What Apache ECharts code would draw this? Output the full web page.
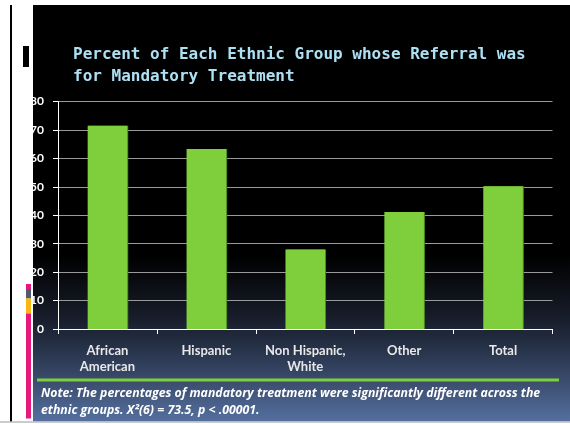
<!DOCTYPE html>
<html>
<head>
<meta charset="utf-8">
<script src="https://cdn.jsdelivr.net/npm/echarts@6/dist/echarts.min.js"></script>
<style>
  html, body { margin: 0; padding: 0; background: #ffffff; }
  #chart { width: 570px; height: 424px; }
</style>
</head>
<body>
<div id="chart"></div>
<script>
// Ethnic groups and the share (%) whose referral was for mandatory treatment
var categories = ['African\nAmerican', 'Hispanic', 'Non Hispanic,\nWhite', 'Other', 'Total'];
var percentMandatory = [71.5, 63.3, 28, 41.1, 50.2];
var yTicks = { min: 0, max: 80, step: 10 };

var titleText = 'Percent of Each Ethnic Group whose Referral was\nfor Mandatory Treatment';
var noteLines = [
  'Note: The percentages of mandatory treatment were significantly different across the',
  'ethnic groups. X\u00B2(6) = 73.5, p < .00001.'
];

var chart = echarts.init(document.getElementById('chart'), null, { renderer: 'canvas' });

var slideTop = 5, slideBottom = 421.5, slideLeft = 33;

var option = {
  animation: false,
  backgroundColor: '#ffffff',
  title: {
    text: titleText,
    left: 68,
    top: 39,
    textStyle: {
      fontFamily: 'DejaVu Sans Mono',
      fontSize: 16,
      fontWeight: 'bold',
      color: '#aee0f4',
      lineHeight: 22
    }
  },
  grid: { left: 58, right: 17.5, top: 101.5, bottom: 95, containLabel: false },
  xAxis: {
    type: 'category',
    data: categories,
    axisLine: { show: true, lineStyle: { color: '#ffffff', width: 1 } },
    axisTick: { show: true, length: 5, alignWithLabel: false, lineStyle: { color: '#ffffff' } },
    axisLabel: {
      color: '#e8e8e8',
      fontFamily: 'Lato',
      fontWeight: 'bold',
      fontSize: 13,
      lineHeight: 16.5,
      margin: 13.5,
      interval: 0
    },
    splitLine: { show: false }
  },
  yAxis: {
    type: 'value',
    min: yTicks.min,
    max: yTicks.max,
    interval: yTicks.step,
    axisLine: { show: true, lineStyle: { color: '#ffffff', width: 1 } },
    axisTick: { show: true, length: 5, lineStyle: { color: '#ffffff' } },
    axisLabel: {
      color: '#ffffff',
      fontFamily: 'Lato',
      fontWeight: 'bold',
      fontSize: 12,
      margin: 14
    },
    splitLine: { show: true, lineStyle: { color: '#9a9a9a', width: 1 } }
  },
  series: [{
    type: 'bar',
    data: percentMandatory,
    barWidth: '40%',
    itemStyle: {
      color: '#7ecf3b',
      shadowColor: '#4d8a22',
      shadowOffsetX: 1,
      shadowOffsetY: 0,
      shadowBlur: 0
    },
    z: 3
  }],
  graphic: [
    // slide background: black fading into slate blue at the bottom
    {
      type: 'rect', z: -100, silent: true,
      shape: { x: slideLeft, y: slideTop, width: 570 - slideLeft, height: slideBottom - slideTop },
      style: {
        fill: new echarts.graphic.LinearGradient(0, 0, 0, 1, [
          { offset: 0, color: '#000000' },
          { offset: 0.6, color: '#000000' },
          { offset: 0.757, color: '#181e2c' },
          { offset: 0.83, color: '#28344b' },
          { offset: 0.9, color: '#3a4b6c' },
          { offset: 1, color: '#54709f' }
        ])
      }
    },
    // left margin strip
    { type: 'rect', z: 100, silent: true, shape: { x: 0, y: 0, width: slideLeft, height: 424 }, style: { fill: '#ffffff' } },
    { type: 'rect', z: 101, silent: true, shape: { x: 10, y: slideTop, width: 2, height: slideBottom - slideTop }, style: { fill: '#000000' } },
    { type: 'rect', z: 101, silent: true, shape: { x: 23, y: 46, width: 6, height: 21 }, style: { fill: '#000000' } },
    // coloured accent bar
    { type: 'rect', z: 101, silent: true, shape: { x: 26, y: 284, width: 5, height: 5 }, style: { fill: '#e8177f' } },
    { type: 'rect', z: 101, silent: true, shape: { x: 26, y: 289, width: 5, height: 9.5 }, style: { fill: '#4f5a6e' } },
    { type: 'rect', z: 101, silent: true, shape: { x: 26, y: 298.5, width: 5, height: 15 }, style: { fill: '#f8b712' } },
    { type: 'rect', z: 101, silent: true, shape: { x: 26, y: 313.5, width: 5, height: 105 }, style: { fill: '#e8177f' } },
    // top and bottom margins
    { type: 'rect', z: 100, silent: true, shape: { x: 0, y: 0, width: 570, height: slideTop }, style: { fill: '#ffffff' } },
    { type: 'rect', z: 100, silent: true, shape: { x: 0, y: slideBottom, width: 570, height: 424 - slideBottom }, style: { fill: '#ffffff' } },
    { type: 'rect', z: 101, silent: true, shape: { x: 0, y: slideBottom, width: 570, height: 1 }, style: { fill: '#9a9a9a' } },
    // green rule above the note
    { type: 'rect', z: 50, silent: true, shape: { x: 37, y: 378.5, width: 522, height: 3 }, style: { fill: '#7ecf3b' } },
    // note text
    {
      type: 'text', z: 50, silent: true, left: 41, top: 384.5,
      style: {
        text: noteLines.join('\n'),
        fill: '#ffffff',
        font: 'italic bold 12.3px "Open Sans"',
        lineHeight: 17.5
      }
    }
  ]
};

chart.setOption(option);
</script>
</body>
</html>
